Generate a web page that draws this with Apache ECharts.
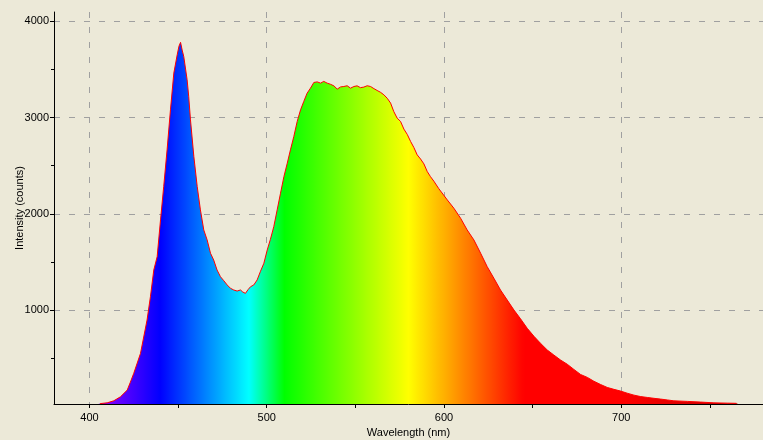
<!DOCTYPE html>
<html><head><meta charset="utf-8">
<script src="https://cdn.jsdelivr.net/npm/echarts@6/dist/echarts.min.js"></script>
<style>html,body{margin:0;padding:0;background:#ECE9D8;}#c{width:763px;height:440px;}</style>
</head><body><div id="c"></div>
<script>
// wavelength (nm)
const wavelengths = [380,385,390,395,400,404,406,410,413.7,417.5,421.3,423,425,428.8,432.5,434.4,436.3,438.2,440.1,441.9,443.8,445.7,447.6,449.5,450.5,451.4,452.3,453.2,455.1,456,457,458.9,460.8,462.6,464.5,466.4,468.3,470.1,472,473.9,475.8,477.7,479.6,481.4,483.3,485.2,486.5,488,489.5,490.9,492.7,494.6,496.5,498.4,500.3,502.1,504,505.9,507.8,509.7,511.6,513.4,515.3,517.2,519.1,520.9,522.8,524.7,526.6,528.5,530.4,532.2,534.1,536,537.9,539.8,541.7,543.5,545.4,547.3,549.2,551,552.9,554.8,556.7,558.6,560.5,562.3,564.2,566.1,568,569.9,571.7,573.6,575.5,577.4,579.3,581.2,583,584.9,586.8,588.7,590.6,592.4,594.3,597.1,601.9,605.6,609.4,613.1,616.9,620.7,624.4,628.2,631.9,635.7,639.5,643.2,647,650.8,654.5,658.3,662,665.8,669.6,673.3,677.1,680.9,684.6,688.4,692.1,695.9,699.7,703.4,707.2,711,714.7,718.5,722.2,726,729.7,737.3,744.8,752.3,759.8,765,767,770,775,780];
// intensity (counts)
const intensities = [12,12,14,16,18,24,32,40,61,103,172,250,346,553,899,1141,1418,1557,1938,2284,2665,3080,3461,3651,3740,3780,3700,3634,3392,3218,2976,2595,2284,2042,1834,1730,1592,1522,1418,1349,1307,1263,1228,1211,1200,1211,1190,1176,1215,1245,1263,1315,1405,1488,1626,1737,1868,2042,2215,2387,2526,2665,2803,2959,3080,3166,3253,3305,3364,3370,3357,3375,3357,3345,3329,3295,3318,3322,3330,3305,3322,3329,3310,3316,3330,3322,3300,3281,3262,3236,3200,3150,3062,2994,2960,2880,2825,2751,2690,2613,2570,2519,2439,2387,2340,2262,2145,2059,1955,1834,1730,1592,1453,1332,1211,1107,1003,912,813,730,657,588,536,484,440,387,334,304,264,230,200,180,162,140,120,105,96,87,79,70,61,55,48,40,37,35,20,15,15,15];
const xLabelTicks = [400,500,600,700];
const xMinorTicks = [450,550,650,750];
const yLabelTicks = [1000,2000,3000,4000];
const yMinorTicks = [500,1500,2500,3500];
const xTitle = 'Wavelength (nm)';
const yTitle = 'Intensity (counts)';

const X_MIN = 380, X_MAX = 780, Y_MIN = 28, Y_MAX = 4095;

function wlColor(w){
  let r,g,b;
  if (w < 440){ r=(440-w)/60; g=0; b=1; }
  else if (w < 490){ r=0; g=(w-440)/50; b=1; }
  else if (w < 510){ r=0; g=1; b=(510-w)/20; }
  else if (w < 580){ r=(w-510)/70; g=1; b=0; }
  else if (w < 645){ r=1; g=(645-w)/65; b=0; }
  else { r=1; g=0; b=0; }
  const f = w > 700 ? 1 - 0.3*(w-700)/80 : 1;
  return 'rgb(' + Math.round(r*f*255) + ',' + Math.round(g*f*255) + ',' + Math.round(b*f*255) + ')';
}
const first = wavelengths[0], last = wavelengths[wavelengths.length-1];
const stops = [];
for (let w = first; w <= last; w += 2){
  stops.push({offset:(w-first)/(last-first), color: wlColor(w)});
}

const allPoints = wavelengths.map((w,i)=>[w, intensities[i]]);
const visiblePoints = allPoints.filter(p => p[1] >= Y_MIN);

const FONT = 'Liberation Sans';
const chart = echarts.init(document.getElementById('c'), null, {renderer:'canvas'});
const axisLineStyle = {color:'#000', width:1};
const splitStyle = {color:'#a0a0a0', width:1, type:[6,9]};
const plainNum = v => String(Math.round(v));
chart.setOption({
  animation:false,
  backgroundColor:'#ECE9D8',
  grid:{left:54, right:0, top:12, bottom:36, containLabel:false, outerBoundsMode:'none'},
  xAxis:[{
    type:'value', min:X_MIN, max:X_MAX, position:'bottom',
    name:xTitle, nameLocation:'middle', nameGap:21,
    nameTextStyle:{fontFamily:FONT, fontSize:11, color:'#000'},
    axisLine:{show:true, onZero:false, lineStyle:axisLineStyle},
    axisTick:{show:true, length:4, customValues:xLabelTicks, lineStyle:{color:'#000'}},
    axisLabel:{customValues:xLabelTicks, margin:8, formatter:plainNum, fontFamily:FONT, fontSize:11, color:'#000'},
    splitLine:{show:true, lineStyle:splitStyle}
  },{
    type:'value', min:X_MIN, max:X_MAX, position:'bottom', gridIndex:0,
    axisLine:{show:false, onZero:false},
    axisTick:{show:true, length:4, customValues:xMinorTicks, lineStyle:{color:'#000'}},
    axisLabel:{show:false},
    splitLine:{show:false}
  }],
  yAxis:[{
    type:'value', min:Y_MIN, max:Y_MAX, position:'left',
    name:yTitle, nameLocation:'middle', nameGap:29, nameMoveOverlap:false,
    nameTextStyle:{fontFamily:FONT, fontSize:11, color:'#000'},
    axisLine:{show:true, onZero:false, lineStyle:axisLineStyle},
    axisTick:{show:true, length:4, customValues:yLabelTicks, lineStyle:{color:'#000'}},
    axisLabel:{customValues:yLabelTicks, margin:5, formatter:plainNum, fontFamily:FONT, fontSize:11, color:'#000'},
    splitLine:{show:true, lineStyle:splitStyle}
  },{
    type:'value', min:Y_MIN, max:Y_MAX, position:'left', gridIndex:0,
    axisLine:{show:false, onZero:false},
    axisTick:{show:true, length:3, customValues:yMinorTicks, lineStyle:{color:'#000'}},
    axisLabel:{show:false},
    splitLine:{show:false}
  }],
  series:[{
    type:'line', xAxisIndex:0, yAxisIndex:0,
    data: allPoints,
    symbol:'none', smooth:false, clip:true,
    lineStyle:{width:0, opacity:0},
    areaStyle:{opacity:1, origin:'start', color:new echarts.graphic.LinearGradient(0,0,1,0, stops)},
    silent:true, z:3
  },{
    type:'line', xAxisIndex:0, yAxisIndex:0,
    data: visiblePoints,
    symbol:'none', smooth:false, clip:true,
    lineStyle:{color:'#ff0000', width:1},
    itemStyle:{color:'#ff0000'},
    silent:true, z:4
  }]
});
</script>
</body></html>
